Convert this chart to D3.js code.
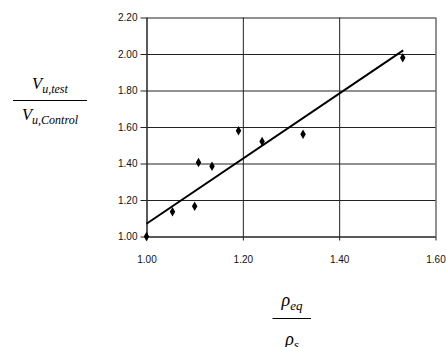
<!DOCTYPE html>
<html>
<head>
<meta charset="utf-8">
<script src="https://cdn.jsdelivr.net/npm/d3@7"></script>
<style>
  html, body { margin: 0; padding: 0; background: #fff; }
  svg { display: block; }
  .tick text { font-family: 'Liberation Sans', Arial, sans-serif; font-size: 10px; fill: #111; }
  .grid line { stroke: #222; stroke-width: 1; }
  .math { font-family: 'Liberation Serif', 'Times New Roman', serif; font-style: italic; fill: #000; }
</style>
</head>
<body>
<svg id="chart"></svg>
<script>
const xTicks = [1.0, 1.2, 1.4, 1.6];
const yTicks = [1.0, 1.2, 1.4, 1.6, 1.8, 2.0, 2.2];

// measured points: reinforcement ratio vs shear strength ratio
const rhoRatio = [1.000, 1.054, 1.100, 1.108, 1.136, 1.191, 1.240, 1.325, 1.532];
const shearRatio = [1.000, 1.135, 1.166, 1.405, 1.385, 1.580, 1.520, 1.560, 1.980];

// linear trend line ends
const trendRho = [1.000, 1.533];
const trendShear = [1.070, 2.020];

const width = 446;
const height = 347;
const margin = { top: 17.5, right: 10.5, bottom: 110.5, left: 146.5 };
const innerWidth = width - margin.left - margin.right;
const innerHeight = height - margin.top - margin.bottom;

const svg = d3.select('#chart')
  .attr('width', width)
  .attr('height', height);

const g = svg.append('g')
  .attr('transform', `translate(${margin.left}, ${margin.top})`);

const x = d3.scaleLinear()
  .domain([1.0, 1.6])
  .range([0, innerWidth]);
const y = d3.scaleLinear()
  .domain([1.0, 2.2])
  .range([innerHeight, 0]);

const fmt = d3.format('.2f');

// horizontal grid lines
g.append('g')
  .attr('class', 'grid')
  .call(d3.axisRight(y).tickValues(yTicks).tickSize(innerWidth).tickFormat(''))
  .call(s => s.select('.domain').remove());

// vertical grid lines
g.append('g')
  .attr('class', 'grid')
  .call(d3.axisBottom(x).tickValues(xTicks).tickSize(innerHeight).tickFormat(''))
  .call(s => s.select('.domain').remove());

// Y axis ticks + labels
g.append('g')
  .attr('class', 'grid')
  .call(d3.axisLeft(y).tickValues(yTicks).tickSizeInner(6).tickSizeOuter(0).tickPadding(3).tickFormat(fmt))
  .call(s => s.select('.domain').attr('stroke', '#222'));

// X axis ticks + labels
g.append('g')
  .attr('class', 'grid')
  .attr('transform', `translate(0, ${innerHeight})`)
  .call(d3.axisBottom(x).tickValues(xTicks).tickSizeInner(4).tickSizeOuter(0).tickPadding(15).tickFormat(fmt))
  .call(s => s.select('.domain').attr('stroke', '#222'));

// Trend line
g.append('path')
  .datum(d3.zip(trendRho, trendShear))
  .attr('fill', 'none')
  .attr('stroke', '#000')
  .attr('stroke-width', 2)
  .attr('d', d3.line().x(d => x(d[0])).y(d => y(d[1])));

// Markers
g.selectAll('.pt')
  .data(d3.zip(rhoRatio, shearRatio))
  .enter().append('path')
    .attr('class', 'pt')
    .attr('fill', '#000')
    .attr('transform', d => `translate(${x(d[0])}, ${y(d[1])})`)
    .attr('d', d3.symbol(d3.symbolDiamond, 26));

// Y title: V_u,test / V_u,Control
const yFracX = 50;
const num = svg.append('text')
  .attr('class', 'math')
  .attr('text-anchor', 'middle')
  .attr('x', yFracX)
  .attr('y', 88.5);
num.append('tspan').attr('font-size', 16.5).text('V');
num.append('tspan').attr('font-size', 12).attr('dy', 4).text('u,test');

svg.append('line')
  .attr('x1', 13).attr('x2', 87)
  .attr('y1', 100.5).attr('y2', 100.5)
  .attr('stroke', '#000')
  .attr('stroke-width', 1.2);

const den = svg.append('text')
  .attr('class', 'math')
  .attr('text-anchor', 'middle')
  .attr('x', yFracX)
  .attr('y', 120);
den.append('tspan').attr('font-size', 16.5).text('V');
den.append('tspan').attr('font-size', 12).attr('dy', 4).text('u,Control');

// X title: rho_eq / rho_s
const xFracX = 292;
const rnum = svg.append('text')
  .attr('class', 'math')
  .attr('text-anchor', 'middle')
  .attr('x', xFracX)
  .attr('y', 306);
rnum.append('tspan').attr('font-size', 18).text('ρ');
rnum.append('tspan').attr('font-size', 13).attr('dy', 4).text('eq');

svg.append('line')
  .attr('x1', 272.5).attr('x2', 311)
  .attr('y1', 318.5).attr('y2', 318.5)
  .attr('stroke', '#000')
  .attr('stroke-width', 1.2);

const rden = svg.append('text')
  .attr('class', 'math')
  .attr('text-anchor', 'middle')
  .attr('x', xFracX)
  .attr('y', 345);
rden.append('tspan').attr('font-size', 18).text('ρ');
rden.append('tspan').attr('font-size', 13).attr('dy', 4).text('s');
</script>
</body>
</html>
